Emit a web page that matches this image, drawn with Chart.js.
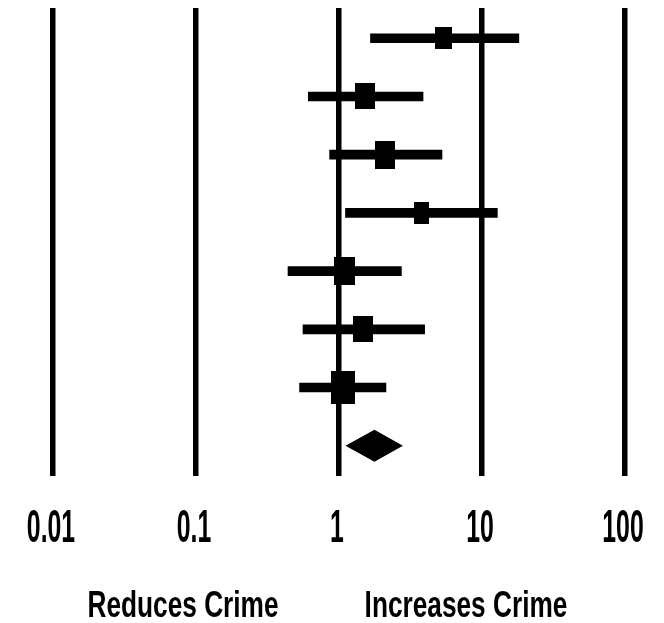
<!DOCTYPE html>
<html>
<head>
<meta charset="utf-8">
<script src="https://cdn.jsdelivr.net/npm/chart.js@4.4.1/dist/chart.umd.min.js"></script>
<style>
  html, body { margin: 0; padding: 0; background: #fff; }
  canvas { display: block; }
</style>
</head>
<body>
<canvas id="forestChart" width="664" height="623"></canvas>
<script>
    // study rows (top to bottom), last row is the pooled estimate
    const studies = ['Study 1', 'Study 2', 'Study 3', 'Study 4', 'Study 5', 'Study 6', 'Study 7'];
    const estimates = [5.4, 1.52, 2.1, 3.8, 1.09, 1.48, 1.07];
    const lowerCI = [1.66, 0.61, 0.86, 1.11, 0.44, 0.56, 0.53];
    const upperCI = [18.1, 3.87, 5.25, 12.8, 2.73, 3.97, 2.13];
    const pooled = [1.11, 1.77, 2.80]; // lower, estimate, upper
    const tickValues = [0.01, 0.1, 1, 10, 100];
    const tickLabels = ['0.01', '0.1', '1', '10', '100'];
    const sideLabels = ['Reduces Crime', 'Increases Crime'];

    // marker box sizes in px (width, height), roughly by study weight
    const boxW = [17, 20, 20, 15, 21, 20, 24];
    const boxH = [22, 26, 28, 22, 28, 26, 33];

    const sans = "'Liberation Sans', Arial, sans-serif";

    function boxStyle(w, h) {
        const c = document.createElement('canvas');
        c.width = w;
        c.height = h;
        const g = c.getContext('2d');
        g.fillStyle = '#000';
        g.fillRect(0, 0, w, h);
        return c;
    }

    // text squeezed sideways / stretched upward to look like the narrow original
    function drawText(ctx, text, x, y, sx, sy) {
        ctx.save();
        ctx.translate(x, y);
        ctx.scale(sx, sy);
        ctx.fillText(text, 0, 0);
        ctx.restore();
    }

    const forestExtras = {
        id: 'forestExtras',
        afterDatasetsDraw(chart) {
            const ctx = chart.ctx;
            const xs = chart.scales.x;
            const ys = chart.scales.y;
            // pooled diamond
            const yc = ys.getPixelForValue(studies.length + 1);
            const half = 16;
            ctx.save();
            ctx.fillStyle = '#000';
            ctx.beginPath();
            ctx.moveTo(xs.getPixelForValue(pooled[0]), yc);
            ctx.lineTo(xs.getPixelForValue(pooled[1]), yc - half);
            ctx.lineTo(xs.getPixelForValue(pooled[2]), yc);
            ctx.lineTo(xs.getPixelForValue(pooled[1]), yc + half);
            ctx.closePath();
            ctx.fill();
            ctx.restore();
        },
        afterDraw(chart) {
            const ctx = chart.ctx;
            const xs = chart.scales.x;
            ctx.save();
            ctx.fillStyle = '#000';
            ctx.textAlign = 'center';
            ctx.textBaseline = 'alphabetic';
            ctx.font = 'bold 31px ' + sans;
            tickValues.forEach((v, i) => {
                drawText(ctx, tickLabels[i], xs.getPixelForValue(v) - 2, 542, 0.8, 1.52);
            });
            ctx.font = 'bold 32px ' + sans;
            drawText(ctx, sideLabels[0], 183, 617, 0.82, 1.13);
            drawText(ctx, sideLabels[1], 466, 617, 0.82, 1.13);
            ctx.restore();
        }
    };

    const ctx = document.getElementById('forestChart').getContext('2d');
    const forestChart = new Chart(ctx, {
        type: 'scatter',
        data: {
            datasets: [{
                label: 'CI',
                type: 'bar',
                indexAxis: 'y',
                data: studies.map((s, i) => ({ y: i + 1, x: [lowerCI[i], upperCI[i]] })),
                backgroundColor: '#000',
                borderWidth: 0,
                barThickness: 9,
                order: 2
            }, {
                label: 'Estimate',
                type: 'scatter',
                data: studies.map((s, i) => ({ x: estimates[i], y: i + 1 })),
                pointStyle: studies.map((s, i) => boxStyle(boxW[i], boxH[i])),
                order: 1
            }]
        },
        options: {
            responsive: false,
            animation: false,
            layout: {
                padding: { top: 8, left: 53, right: 39, bottom: 147 }
            },
            scales: {
                x: {
                    type: 'logarithmic',
                    min: 0.01,
                    max: 100,
                    offset: false,
                    afterBuildTicks: (scale) => {
                        scale.ticks = tickValues.map(v => ({ value: v }));
                    },
                    grid: {
                        color: '#000',
                        lineWidth: 5.5,
                        offset: false,
                        drawTicks: false
                    },
                    border: { display: false },
                    ticks: { display: false }
                },
                y: {
                    type: 'linear',
                    reverse: true,
                    min: 0.48,
                    max: 8.52,
                    offset: false,
                    display: false
                }
            },
            plugins: {
                legend: { display: false },
                tooltip: { enabled: false }
            }
        },
        plugins: [forestExtras]
    });
</script>
</body>
</html>
